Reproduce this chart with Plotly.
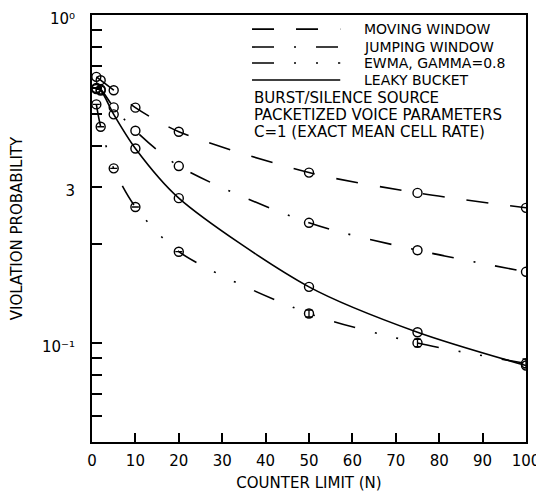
import plotly.graph_objects as go

# ---- data ----
N = [1, 2, 5, 10, 20, 50, 75, 100]
moving_window = [0.648, 0.633, 0.590, 0.522, 0.441, 0.331, 0.287, 0.2585]
jumping_window = [0.599, 0.593, 0.523, 0.444, 0.3465, 0.2327, 0.192, 0.165]
ewma = [0.534, 0.4566, 0.341, 0.260, 0.190, 0.1232, 0.1002, 0.0868]
ewma_err = [0, 0, 0, 0, 0, 0.003, 0.0026, 0.0027]
leaky_bucket = [0.595, 0.589, 0.498, 0.392, 0.2767, 0.1485, 0.108, 0.0855]

series_names = ["MOVING WINDOW", "JUMPING WINDOW", "EWMA, GAMMA=0.8", "LEAKY BUCKET"]
info_lines = ["BURST/SILENCE SOURCE", "PACKETIZED VOICE PARAMETERS",
              "C=1 (EXACT MEAN CELL RATE)"]

x_ticks = list(range(0, 101, 10))
y_major_vals = [0.1, 0.3, 1.0]
y_major_text = ["10⁻¹", "3", "10⁰"]
y_minor_vals = [0.06, 0.07, 0.08, 0.09, 0.2, 0.4, 0.5, 0.6, 0.7, 0.8, 0.9]

FONT = "DejaVu Sans"
dashes = ["22px,22px", "22px,20px,2px,20px", "22px,20px,2px,20px,2px,20px", "solid"]
values = [moving_window, jumping_window, ewma, leaky_bucket]

fig = go.Figure()
for i, (name, vals, dash) in enumerate(zip(series_names, values, dashes)):
    kw = {}
    if i == 2:
        kw["error_y"] = dict(type="data", array=ewma_err, visible=True,
                             color="black", thickness=1.3, width=3.5)
    fig.add_trace(go.Scatter(
        x=N, y=vals, name=name, mode="lines+markers",
        line=dict(color="black", width=1.6, dash=dash, shape="spline", smoothing=0.8),
        marker=dict(symbol="circle-open", size=9, color="black", line=dict(width=1.4)),
        showlegend=False, **kw))

# manual legend (long line samples as in the reference)
row_y = [0.967, 0.925, 0.8876, 0.8478]
for name, dash, yy in zip(series_names, dashes, row_y):
    fig.add_shape(type="line", xref="paper", yref="paper",
                  x0=0.3687, x1=0.572, y0=yy, y1=yy,
                  line=dict(color="black", width=1.6, dash=dash))
    fig.add_annotation(xref="paper", yref="paper", x=0.622, y=yy, text=name,
                       showarrow=False, xanchor="left", yanchor="middle",
                       font=dict(family=FONT, size=14, color="black"))
for txt, yy in zip(info_lines, [0.8056, 0.7658, 0.726]):
    fig.add_annotation(xref="paper", yref="paper", x=0.369, y=yy, text=txt,
                       showarrow=False, xanchor="left", yanchor="middle",
                       font=dict(family=FONT, size=15, color="black"))

fig.update_layout(
    width=536, height=486,
    margin=dict(l=84, r=18, t=7, b=52),
    paper_bgcolor="white", plot_bgcolor="white",
    font=dict(family=FONT, size=14, color="black"),
    showlegend=False,
)
fig.update_xaxes(
    range=[0, 100], tickvals=x_ticks, ticks="inside", ticklen=9, tickwidth=1.5,
    tickcolor="black", showline=True, linewidth=2, linecolor="black", mirror=True,
    showgrid=False, zeroline=False, tickfont=dict(size=15), automargin=False,
    ticklabelstandoff=4, ticklabeloverflow="allow",
    title=dict(text="COUNTER LIMIT (N)", font=dict(size=15), standoff=8),
)
fig.update_yaxes(
    type="log", range=[-1.30103, 0], tickvals=y_major_vals, ticktext=y_major_text,
    ticks="inside", ticklen=10, tickwidth=1.5, tickcolor="black",
    minor=dict(tickvals=y_minor_vals, ticks="inside", ticklen=10, tickwidth=1.5,
               tickcolor="black", showgrid=False),
    showline=True, linewidth=2, linecolor="black", mirror=True,
    showgrid=False, zeroline=False, tickfont=dict(size=15), ticklabelstandoff=12,
    ticklabelshift=4,
    automargin=False, ticklabeloverflow="allow",
    title=dict(text="VIOLATION PROBABILITY", font=dict(size=15), standoff=22),
)

fig.write_html("out.html")
